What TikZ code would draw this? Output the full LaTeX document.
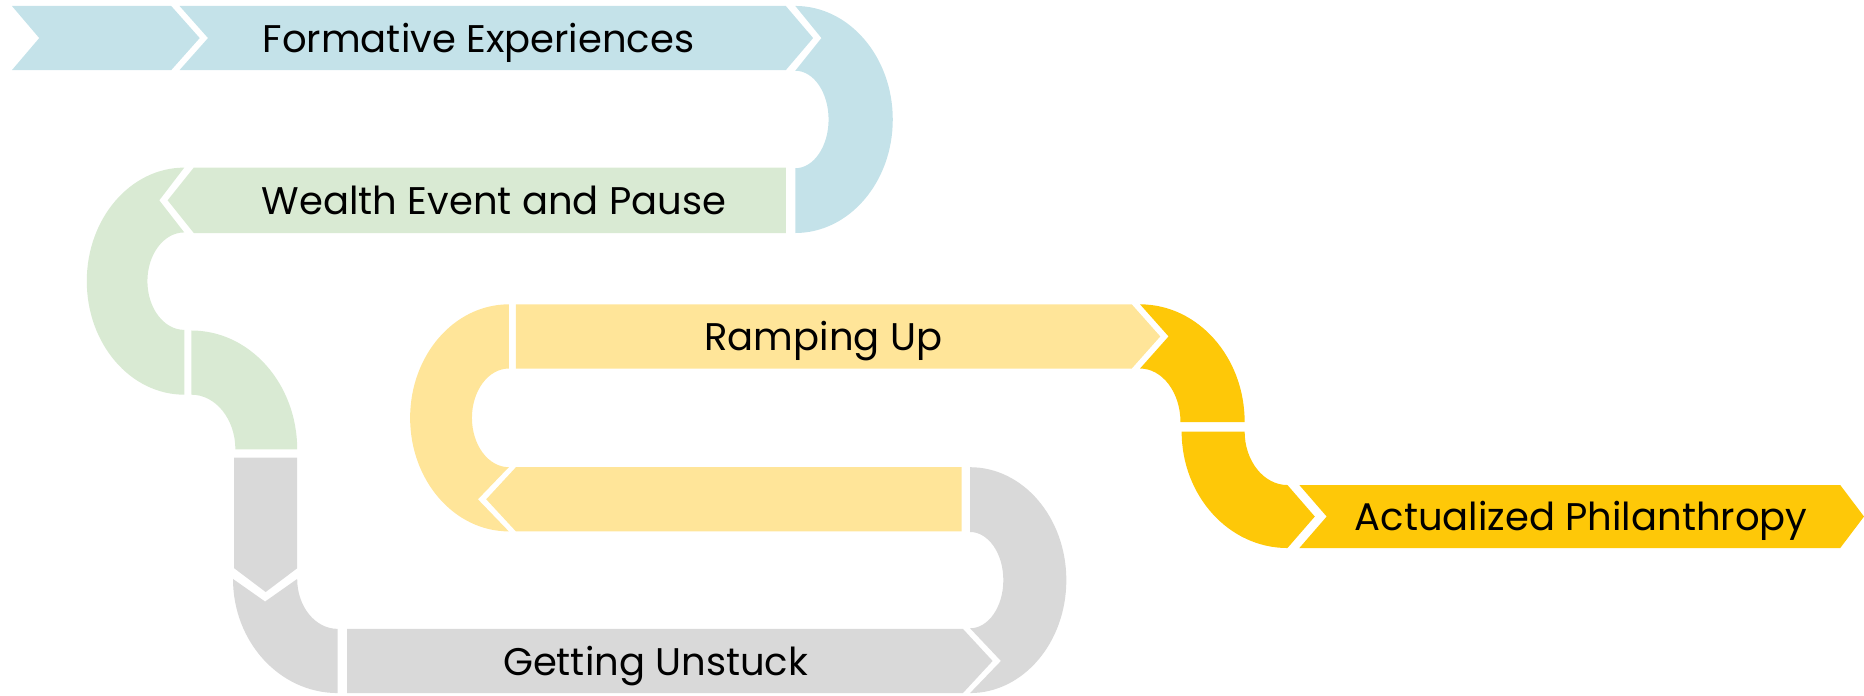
\documentclass[tikz,border=0pt]{standalone}
\usepackage{fontspec}
\setmainfont{Poppins}
\usepackage{tikz}

\definecolor{pathblue}{RGB}{196,226,233}
\definecolor{pathgreen}{RGB}{217,234,211}
\definecolor{pathgray}{RGB}{217,217,217}
\definecolor{pathyellow}{RGB}{255,229,153}
\definecolor{pathgold}{RGB}{254,200,8}

\tikzset{
	blueband/.style={fill=pathblue},
	greenband/.style={fill=pathgreen},
	grayband/.style={fill=pathgray},
	yellowband/.style={fill=pathyellow},
	goldband/.style={fill=pathgold},
	stagelabel/.style={font=\fontsize{16.2}{18}\selectfont, text=black, inner sep=0pt, anchor=base}
}

\begin{document}
\begin{tikzpicture}[x=0.5pt, y=-0.5pt]
			%%%%% START %%%%%
			
			\useasboundingbox (0, 0) rectangle (1568, 585);
			
			% formative experiences
			\fill[blueband] (10, 5) -- (144, 5) -- (168, 32) -- (144, 59) -- (10, 59) -- (33, 32) -- cycle;
			\fill[blueband] (151, 5) -- (661, 5) -- (684, 32) -- (661, 59) -- (151, 59) -- (175, 32) -- cycle;
			\fill[blueband] (669, 5) arc[start angle=-90, end angle=90, x radius=82, y radius=95.5]
				-- (669, 141.5) arc[start angle=90, end angle=-90, x radius=28, y radius=41]
				-- (691, 32) -- cycle;
			\node[stagelabel] (formative) at (402.5, 44) {Formative Experiences};
			
			% wealth event and pause
			\fill[greenband] (661, 141) -- (661, 196) -- (163, 196) -- (141, 168.5) -- (163, 141) -- cycle;
			\fill[greenband] (155, 141) arc[start angle=270, end angle=90, x radius=82, y radius=95.5]
				-- (155, 277.5) arc[start angle=90, end angle=270, x radius=31, y radius=41]
				-- (134, 168.5) -- cycle;
			\fill[greenband] (161, 278) arc[start angle=-90, end angle=0, x radius=89, y radius=100]
				-- (198, 378) arc[start angle=0, end angle=-90, x radius=37, y radius=46] -- cycle;
			\node[stagelabel] (wealth) at (415.5, 180.5) {Wealth Event and Pause};
			
			% getting unstuck
			\fill[grayband] (197, 385) -- (250, 385) -- (250, 478) -- (223.5, 498) -- (197, 478) -- cycle;
			\fill[grayband] (196, 487) arc[start angle=180, end angle=90, x radius=88, y radius=96]
				-- (284, 529) arc[start angle=90, end angle=180, x radius=34, y radius=42]
				-- (223, 506) -- cycle;
			\fill[grayband] (292, 529) -- (810, 529) -- (835, 556) -- (810, 583) -- (292, 583) -- cycle;
			\fill[grayband] (816, 583) arc[start angle=90, end angle=-90, x radius=81, y radius=95]
				-- (816, 447.5) arc[start angle=-90, end angle=90, x radius=28, y radius=40.5]
				-- (842, 556) -- cycle;
			\node[stagelabel] (unstuck) at (551.5, 568) {Getting Unstuck};
			
			% ramping up
			\fill[yellowband] (809, 393) -- (809, 447) -- (434, 447) -- (409, 420) -- (434, 393) -- cycle;
			\fill[yellowband] (428, 447) arc[start angle=90, end angle=270, x radius=83, y radius=95.5]
				-- (428, 310) arc[start angle=270, end angle=90, x radius=31, y radius=41.5]
				-- (402, 420) -- cycle;
			\fill[yellowband] (434, 256) -- (952, 256) -- (976, 283) -- (952, 310) -- (434, 310) -- cycle;
			\node[stagelabel] (ramping) at (692.5, 295) {Ramping Up};
			
			% actualized philanthropy
			\fill[goldband] (959, 256) arc[start angle=-90, end angle=0, x radius=88, y radius=99]
				-- (993, 355) arc[start angle=0, end angle=-90, x radius=34, y radius=45]
				-- (983, 283) -- cycle;
			\fill[goldband] (994, 363) arc[start angle=180, end angle=90, x radius=89, y radius=98]
				-- (1106, 434.5) -- (1083, 408)
				arc[start angle=90, end angle=180, x radius=36, y radius=45] -- cycle;
			\fill[goldband] (1093, 408) -- (1548, 408) -- (1568, 434.5) -- (1548, 461) -- (1093, 461) -- (1116, 434.5) -- cycle;
			\node[stagelabel] (actualized) at (1330, 446.5) {Actualized Philanthropy};
			
			%%%%% END %%%%%
		\end{tikzpicture}
\end{document}
